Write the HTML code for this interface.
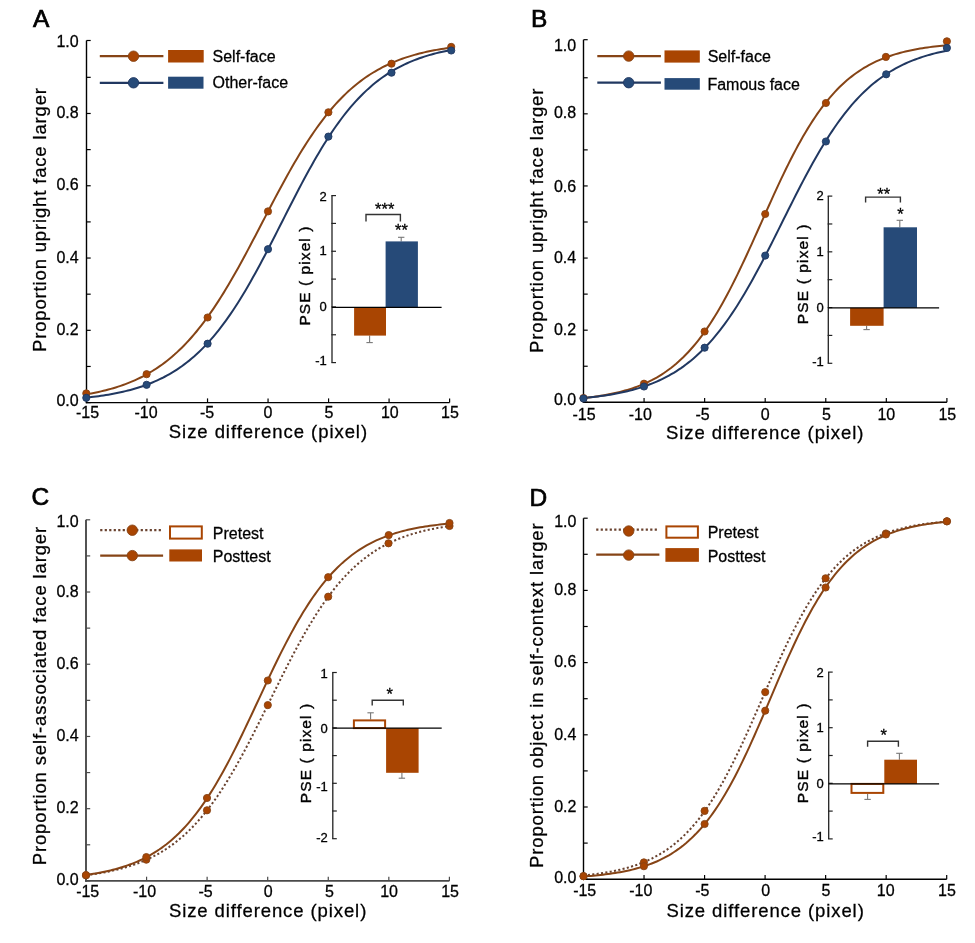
<!DOCTYPE html>
<html><head><meta charset="utf-8"><style>
html,body{margin:0;padding:0;background:#fff;width:975px;height:943px;overflow:hidden;}
svg{display:block;will-change:transform;}
text{font-family:"Liberation Sans", sans-serif;}
</style></head><body>
<svg width="975" height="943" viewBox="0 0 975 943">
<rect width="975" height="943" fill="#fff"/>
<line x1="86.50" y1="40.50" x2="86.50" y2="403.30" stroke="#000" stroke-width="1.4" />
<line x1="85.80" y1="402.60" x2="449.60" y2="402.60" stroke="#000" stroke-width="1.4" />
<line x1="86.50" y1="402.60" x2="90.70" y2="402.60" stroke="#000" stroke-width="1.2" />
<line x1="86.50" y1="366.46" x2="90.70" y2="366.46" stroke="#000" stroke-width="1.2" />
<line x1="86.50" y1="330.32" x2="90.70" y2="330.32" stroke="#000" stroke-width="1.2" />
<line x1="86.50" y1="294.18" x2="90.70" y2="294.18" stroke="#000" stroke-width="1.2" />
<line x1="86.50" y1="258.04" x2="90.70" y2="258.04" stroke="#000" stroke-width="1.2" />
<line x1="86.50" y1="221.90" x2="90.70" y2="221.90" stroke="#000" stroke-width="1.2" />
<line x1="86.50" y1="185.76" x2="90.70" y2="185.76" stroke="#000" stroke-width="1.2" />
<line x1="86.50" y1="149.62" x2="90.70" y2="149.62" stroke="#000" stroke-width="1.2" />
<line x1="86.50" y1="113.48" x2="90.70" y2="113.48" stroke="#000" stroke-width="1.2" />
<line x1="86.50" y1="77.34" x2="90.70" y2="77.34" stroke="#000" stroke-width="1.2" />
<line x1="86.50" y1="40.50" x2="90.70" y2="40.50" stroke="#000" stroke-width="1.2" />
<line x1="86.50" y1="402.60" x2="86.50" y2="398.40" stroke="#000" stroke-width="1.2" />
<line x1="147.02" y1="402.60" x2="147.02" y2="398.40" stroke="#000" stroke-width="1.2" />
<line x1="207.53" y1="402.60" x2="207.53" y2="398.40" stroke="#000" stroke-width="1.2" />
<line x1="268.05" y1="402.60" x2="268.05" y2="398.40" stroke="#000" stroke-width="1.2" />
<line x1="328.57" y1="402.60" x2="328.57" y2="398.40" stroke="#000" stroke-width="1.2" />
<line x1="389.08" y1="402.60" x2="389.08" y2="398.40" stroke="#000" stroke-width="1.2" />
<line x1="449.60" y1="402.60" x2="449.60" y2="398.40" stroke="#000" stroke-width="1.2" />
<text x="78.70" y="405.73" font-size="16" text-anchor="end" fill="#000" stroke="#000" stroke-width="0.28">0.0</text>
<text x="78.70" y="335.05" font-size="16" text-anchor="end" fill="#000" stroke="#000" stroke-width="0.28">0.2</text>
<text x="78.70" y="262.77" font-size="16" text-anchor="end" fill="#000" stroke="#000" stroke-width="0.28">0.4</text>
<text x="78.70" y="190.49" font-size="16" text-anchor="end" fill="#000" stroke="#000" stroke-width="0.28">0.6</text>
<text x="78.70" y="118.21" font-size="16" text-anchor="end" fill="#000" stroke="#000" stroke-width="0.28">0.8</text>
<text x="78.70" y="47.43" font-size="16" text-anchor="end" fill="#000" stroke="#000" stroke-width="0.28">1.0</text>
<text x="87.50" y="417.80" font-size="16" text-anchor="middle" fill="#000" stroke="#000" stroke-width="0.28">-15</text>
<text x="146.02" y="417.80" font-size="16" text-anchor="middle" fill="#000" stroke="#000" stroke-width="0.28">-10</text>
<text x="207.13" y="417.80" font-size="16" text-anchor="middle" fill="#000" stroke="#000" stroke-width="0.28">-5</text>
<text x="268.05" y="417.80" font-size="16" text-anchor="middle" fill="#000" stroke="#000" stroke-width="0.28">0</text>
<text x="328.87" y="417.80" font-size="16" text-anchor="middle" fill="#000" stroke="#000" stroke-width="0.28">5</text>
<text x="389.78" y="417.80" font-size="16" text-anchor="middle" fill="#000" stroke="#000" stroke-width="0.28">10</text>
<text x="450.00" y="417.80" font-size="16" text-anchor="middle" fill="#000" stroke="#000" stroke-width="0.28">15</text>
<text x="168.80" y="438.10" font-size="18.5" text-anchor="start" fill="#000" stroke="#000" stroke-width="0.28" textLength="198.30" lengthAdjust="spacing">Size difference (pixel)</text>
<text x="45.70" y="352.00" font-size="18.5" text-anchor="start" fill="#000" stroke="#000" stroke-width="0.28" textLength="264.00" lengthAdjust="spacing" transform="rotate(-90 45.70 352.00)">Proportion upright face larger</text>
<text x="33.00" y="26.70" font-size="24.5" text-anchor="start" fill="#000" stroke="#000" stroke-width="0.7">A</text>
<path d="M86.30,394.32 L88.75,393.89 L91.20,393.44 L93.65,392.96 L96.10,392.46 L98.54,391.93 L100.99,391.38 L103.44,390.80 L105.89,390.19 L108.34,389.54 L110.79,388.87 L113.24,388.17 L115.69,387.43 L118.14,386.65 L120.59,385.84 L123.03,384.98 L125.48,384.09 L127.93,383.15 L130.38,382.17 L132.83,381.14 L135.28,380.06 L137.73,378.94 L140.18,377.76 L142.63,376.52 L145.08,375.23 L147.52,373.88 L149.97,372.47 L152.42,371.00 L154.87,369.47 L157.32,367.86 L159.77,366.19 L162.22,364.45 L164.67,362.63 L167.12,360.74 L169.57,358.77 L172.01,356.72 L174.46,354.60 L176.91,352.38 L179.36,350.09 L181.81,347.70 L184.26,345.23 L186.71,342.67 L189.16,340.02 L191.61,337.27 L194.06,334.43 L196.50,331.50 L198.95,328.48 L201.40,325.36 L203.85,322.15 L206.30,318.84 L208.75,315.44 L211.20,311.94 L213.65,308.35 L216.10,304.68 L218.55,300.91 L220.99,297.06 L223.44,293.12 L225.89,289.10 L228.34,285.00 L230.79,280.83 L233.24,276.58 L235.69,272.27 L238.14,267.89 L240.59,263.46 L243.04,258.97 L245.48,254.43 L247.93,249.86 L250.38,245.24 L252.83,240.59 L255.28,235.92 L257.73,231.23 L260.18,226.53 L262.63,221.82 L265.08,217.11 L267.53,212.40 L269.97,207.71 L272.42,203.04 L274.87,198.40 L277.32,193.78 L279.77,189.20 L282.22,184.67 L284.67,180.18 L287.12,175.75 L289.57,171.38 L292.02,167.07 L294.46,162.82 L296.91,158.65 L299.36,154.56 L301.81,150.54 L304.26,146.61 L306.71,142.76 L309.16,138.99 L311.61,135.32 L314.06,131.73 L316.51,128.24 L318.95,124.84 L321.40,121.54 L323.85,118.33 L326.30,115.21 L328.75,112.19 L331.20,109.26 L333.65,106.43 L336.10,103.69 L338.55,101.04 L341.00,98.48 L343.44,96.01 L345.89,93.63 L348.34,91.34 L350.79,89.13 L353.24,87.00 L355.69,84.96 L358.14,82.99 L360.59,81.10 L363.04,79.29 L365.49,77.55 L367.93,75.88 L370.38,74.28 L372.83,72.74 L375.28,71.27 L377.73,69.87 L380.18,68.52 L382.63,67.23 L385.08,66.00 L387.53,64.82 L389.98,63.70 L392.42,62.62 L394.87,61.60 L397.32,60.62 L399.77,59.68 L402.22,58.79 L404.67,57.93 L407.12,57.12 L409.57,56.35 L412.02,55.61 L414.47,54.90 L416.91,54.23 L419.36,53.59 L421.81,52.98 L424.26,52.40 L426.71,51.85 L429.16,51.33 L431.61,50.82 L434.06,50.35 L436.51,49.89 L438.96,49.46 L441.40,49.05 L443.85,48.66 L446.30,48.29 L448.75,47.94 L451.20,47.60" fill="none" stroke="#864416" stroke-width="2.0"/>
<path d="M86.30,397.65 L88.75,397.38 L91.20,397.10 L93.65,396.80 L96.10,396.49 L98.54,396.16 L100.99,395.81 L103.44,395.44 L105.89,395.06 L108.34,394.65 L110.79,394.22 L113.24,393.78 L115.69,393.30 L118.14,392.81 L120.59,392.28 L123.03,391.73 L125.48,391.15 L127.93,390.55 L130.38,389.91 L132.83,389.23 L135.28,388.53 L137.73,387.79 L140.18,387.01 L142.63,386.19 L145.08,385.33 L147.52,384.43 L149.97,383.48 L152.42,382.49 L154.87,381.45 L157.32,380.36 L159.77,379.21 L162.22,378.02 L164.67,376.76 L167.12,375.45 L169.57,374.07 L172.01,372.63 L174.46,371.13 L176.91,369.56 L179.36,367.92 L181.81,366.20 L184.26,364.41 L186.71,362.54 L189.16,360.60 L191.61,358.57 L194.06,356.46 L196.50,354.26 L198.95,351.98 L201.40,349.60 L203.85,347.13 L206.30,344.58 L208.75,341.92 L211.20,339.17 L213.65,336.32 L216.10,333.38 L218.55,330.33 L220.99,327.19 L223.44,323.95 L225.89,320.60 L228.34,317.16 L230.79,313.62 L233.24,309.98 L235.69,306.25 L238.14,302.42 L240.59,298.50 L243.04,294.49 L245.48,290.39 L247.93,286.21 L250.38,281.94 L252.83,277.60 L255.28,273.19 L257.73,268.72 L260.18,264.17 L262.63,259.58 L265.08,254.93 L267.53,250.23 L269.97,245.50 L272.42,240.73 L274.87,235.93 L277.32,231.12 L279.77,226.29 L282.22,221.45 L284.67,216.62 L287.12,211.79 L289.57,206.98 L292.02,202.19 L294.46,197.43 L296.91,192.70 L299.36,188.01 L301.81,183.37 L304.26,178.78 L306.71,174.25 L309.16,169.79 L311.61,165.39 L314.06,161.06 L316.51,156.82 L318.95,152.65 L321.40,148.57 L323.85,144.57 L326.30,140.67 L328.75,136.86 L331.20,133.14 L333.65,129.52 L336.10,126.00 L338.55,122.57 L341.00,119.25 L343.44,116.02 L345.89,112.90 L348.34,109.87 L350.79,106.94 L353.24,104.12 L355.69,101.38 L358.14,98.75 L360.59,96.20 L363.04,93.75 L365.49,91.40 L367.93,89.13 L370.38,86.95 L372.83,84.85 L375.28,82.84 L377.73,80.91 L380.18,79.05 L382.63,77.28 L385.08,75.58 L387.53,73.95 L389.98,72.39 L392.42,70.90 L394.87,69.47 L397.32,68.11 L399.77,66.80 L402.22,65.56 L404.67,64.37 L407.12,63.24 L409.57,62.16 L412.02,61.12 L414.47,60.14 L416.91,59.20 L419.36,58.31 L421.81,57.46 L424.26,56.65 L426.71,55.87 L429.16,55.14 L431.61,54.44 L434.06,53.77 L436.51,53.14 L438.96,52.54 L441.40,51.96 L443.85,51.42 L446.30,50.90 L448.75,50.41 L451.20,49.94" fill="none" stroke="#213861" stroke-width="2.0"/>
<circle cx="86.30" cy="393.40" r="3.6" fill="#A94502" stroke="#864416" stroke-width="0.9"/>
<circle cx="146.60" cy="374.20" r="3.6" fill="#A94502" stroke="#864416" stroke-width="0.9"/>
<circle cx="207.60" cy="317.50" r="3.6" fill="#A94502" stroke="#864416" stroke-width="0.9"/>
<circle cx="268.00" cy="211.40" r="3.6" fill="#A94502" stroke="#864416" stroke-width="0.9"/>
<circle cx="328.40" cy="112.30" r="3.6" fill="#A94502" stroke="#864416" stroke-width="0.9"/>
<circle cx="391.50" cy="63.70" r="3.6" fill="#A94502" stroke="#864416" stroke-width="0.9"/>
<circle cx="451.20" cy="46.90" r="3.6" fill="#A94502" stroke="#864416" stroke-width="0.9"/>
<circle cx="86.30" cy="397.80" r="3.6" fill="#264A78" stroke="#213861" stroke-width="0.9"/>
<circle cx="146.60" cy="384.80" r="3.6" fill="#264A78" stroke="#213861" stroke-width="0.9"/>
<circle cx="207.60" cy="343.70" r="3.6" fill="#264A78" stroke="#213861" stroke-width="0.9"/>
<circle cx="268.00" cy="249.20" r="3.6" fill="#264A78" stroke="#213861" stroke-width="0.9"/>
<circle cx="328.40" cy="136.60" r="3.6" fill="#264A78" stroke="#213861" stroke-width="0.9"/>
<circle cx="391.50" cy="72.70" r="3.6" fill="#264A78" stroke="#213861" stroke-width="0.9"/>
<circle cx="451.20" cy="50.50" r="3.6" fill="#264A78" stroke="#213861" stroke-width="0.9"/>
<line x1="99.80" y1="56.20" x2="163.40" y2="56.20" stroke="#864416" stroke-width="2.2" />
<circle cx="133.50" cy="56.20" r="5.2" fill="#A94502" stroke="#864416" stroke-width="0.9"/>
<rect x="168.10" y="50.00" width="35.60" height="12.50" fill="#A94502"/>
<text x="212.50" y="62.00" font-size="16" text-anchor="start" fill="#000" stroke="#000" stroke-width="0.28">Self-face</text>
<line x1="99.80" y1="82.80" x2="163.40" y2="82.80" stroke="#213861" stroke-width="2.2" />
<circle cx="133.50" cy="82.80" r="5.2" fill="#264A78" stroke="#213861" stroke-width="0.9"/>
<rect x="168.10" y="76.70" width="35.40" height="12.00" fill="#264A78"/>
<text x="212.50" y="88.20" font-size="16" text-anchor="start" fill="#000" stroke="#000" stroke-width="0.28">Other-face</text>
<line x1="332.00" y1="195.60" x2="332.00" y2="362.60" stroke="#222" stroke-width="1.3" />
<line x1="331.35" y1="195.60" x2="336.00" y2="195.60" stroke="#222" stroke-width="1.2" />
<line x1="331.35" y1="223.43" x2="336.00" y2="223.43" stroke="#222" stroke-width="1.2" />
<line x1="331.35" y1="251.27" x2="336.00" y2="251.27" stroke="#222" stroke-width="1.2" />
<line x1="331.35" y1="279.10" x2="336.00" y2="279.10" stroke="#222" stroke-width="1.2" />
<line x1="331.35" y1="306.93" x2="336.00" y2="306.93" stroke="#222" stroke-width="1.2" />
<line x1="331.35" y1="334.77" x2="336.00" y2="334.77" stroke="#222" stroke-width="1.2" />
<line x1="331.35" y1="362.60" x2="336.00" y2="362.60" stroke="#222" stroke-width="1.2" />
<text x="326.80" y="364.80" font-size="13" text-anchor="end" fill="#000" stroke="#000" stroke-width="0.3">-1</text>
<text x="326.80" y="311.13" font-size="13" text-anchor="end" fill="#000" stroke="#000" stroke-width="0.3">0</text>
<text x="326.80" y="254.97" font-size="13" text-anchor="end" fill="#000" stroke="#000" stroke-width="0.3">1</text>
<text x="326.80" y="200.80" font-size="13" text-anchor="end" fill="#000" stroke="#000" stroke-width="0.3">2</text>
<line x1="369.60" y1="335.60" x2="369.60" y2="342.60" stroke="#777" stroke-width="1.1" />
<line x1="366.40" y1="342.60" x2="372.80" y2="342.60" stroke="#777" stroke-width="1.1" />
<rect x="354.10" y="307.40" width="31.90" height="28.20" fill="#A94502"/>
<line x1="401.20" y1="241.40" x2="401.20" y2="237.30" stroke="#777" stroke-width="1.1" />
<line x1="398.00" y1="237.30" x2="404.40" y2="237.30" stroke="#777" stroke-width="1.1" />
<rect x="385.60" y="241.40" width="32.30" height="66.00" fill="#264A78"/>
<line x1="332.00" y1="307.40" x2="441.60" y2="307.40" stroke="#000" stroke-width="1.3" />
<text x="310.40" y="325.60" font-size="15.5" text-anchor="start" fill="#000" stroke="#000" stroke-width="0.4" textLength="99.00" lengthAdjust="spacing" transform="rotate(-90 310.40 325.60)">PSE ( pixel )</text>
<path d="M366.00,221.50 L366.00,214.50 L400.40,214.50 L400.40,221.50" fill="none" stroke="#333" stroke-width="1.4"/>
<text x="384.70" y="215.00" font-size="16.5" text-anchor="middle" fill="#000" stroke="#000" stroke-width="0.3">***</text>
<text x="401.50" y="236.00" font-size="16.5" text-anchor="middle" fill="#000" stroke="#000" stroke-width="0.3">**</text>
<line x1="583.50" y1="39.70" x2="583.50" y2="403.00" stroke="#000" stroke-width="1.4" />
<line x1="582.80" y1="402.30" x2="946.90" y2="402.30" stroke="#000" stroke-width="1.4" />
<line x1="583.50" y1="402.30" x2="587.70" y2="402.30" stroke="#000" stroke-width="1.2" />
<line x1="583.50" y1="366.24" x2="587.70" y2="366.24" stroke="#000" stroke-width="1.2" />
<line x1="583.50" y1="330.18" x2="587.70" y2="330.18" stroke="#000" stroke-width="1.2" />
<line x1="583.50" y1="294.12" x2="587.70" y2="294.12" stroke="#000" stroke-width="1.2" />
<line x1="583.50" y1="258.06" x2="587.70" y2="258.06" stroke="#000" stroke-width="1.2" />
<line x1="583.50" y1="222.00" x2="587.70" y2="222.00" stroke="#000" stroke-width="1.2" />
<line x1="583.50" y1="185.94" x2="587.70" y2="185.94" stroke="#000" stroke-width="1.2" />
<line x1="583.50" y1="149.88" x2="587.70" y2="149.88" stroke="#000" stroke-width="1.2" />
<line x1="583.50" y1="113.82" x2="587.70" y2="113.82" stroke="#000" stroke-width="1.2" />
<line x1="583.50" y1="77.76" x2="587.70" y2="77.76" stroke="#000" stroke-width="1.2" />
<line x1="583.50" y1="39.70" x2="587.70" y2="39.70" stroke="#000" stroke-width="1.2" />
<line x1="583.50" y1="402.30" x2="583.50" y2="398.10" stroke="#000" stroke-width="1.2" />
<line x1="644.07" y1="402.30" x2="644.07" y2="398.10" stroke="#000" stroke-width="1.2" />
<line x1="704.63" y1="402.30" x2="704.63" y2="398.10" stroke="#000" stroke-width="1.2" />
<line x1="765.20" y1="402.30" x2="765.20" y2="398.10" stroke="#000" stroke-width="1.2" />
<line x1="825.77" y1="402.30" x2="825.77" y2="398.10" stroke="#000" stroke-width="1.2" />
<line x1="886.33" y1="402.30" x2="886.33" y2="398.10" stroke="#000" stroke-width="1.2" />
<line x1="946.90" y1="402.30" x2="946.90" y2="398.10" stroke="#000" stroke-width="1.2" />
<text x="576.20" y="405.43" font-size="16" text-anchor="end" fill="#000" stroke="#000" stroke-width="0.28">0.0</text>
<text x="576.20" y="335.01" font-size="16" text-anchor="end" fill="#000" stroke="#000" stroke-width="0.28">0.2</text>
<text x="576.20" y="262.89" font-size="16" text-anchor="end" fill="#000" stroke="#000" stroke-width="0.28">0.4</text>
<text x="576.20" y="191.67" font-size="16" text-anchor="end" fill="#000" stroke="#000" stroke-width="0.28">0.6</text>
<text x="576.20" y="117.65" font-size="16" text-anchor="end" fill="#000" stroke="#000" stroke-width="0.28">0.8</text>
<text x="576.20" y="50.63" font-size="16" text-anchor="end" fill="#000" stroke="#000" stroke-width="0.28">1.0</text>
<text x="584.00" y="419.50" font-size="16" text-anchor="middle" fill="#000" stroke="#000" stroke-width="0.28">-15</text>
<text x="640.27" y="419.50" font-size="16" text-anchor="middle" fill="#000" stroke="#000" stroke-width="0.28">-10</text>
<text x="702.63" y="419.50" font-size="16" text-anchor="middle" fill="#000" stroke="#000" stroke-width="0.28">-5</text>
<text x="765.20" y="419.50" font-size="16" text-anchor="middle" fill="#000" stroke="#000" stroke-width="0.28">0</text>
<text x="826.57" y="419.50" font-size="16" text-anchor="middle" fill="#000" stroke="#000" stroke-width="0.28">5</text>
<text x="886.33" y="419.50" font-size="16" text-anchor="middle" fill="#000" stroke="#000" stroke-width="0.28">10</text>
<text x="947.30" y="419.50" font-size="16" text-anchor="middle" fill="#000" stroke="#000" stroke-width="0.28">15</text>
<text x="666.00" y="438.50" font-size="18.5" text-anchor="start" fill="#000" stroke="#000" stroke-width="0.28" textLength="197.40" lengthAdjust="spacing">Size difference (pixel)</text>
<text x="543.50" y="352.90" font-size="18.5" text-anchor="start" fill="#000" stroke="#000" stroke-width="0.28" textLength="264.30" lengthAdjust="spacing" transform="rotate(-90 543.50 352.90)">Proportion upright face larger</text>
<text x="531.00" y="27.20" font-size="24.5" text-anchor="start" fill="#000" stroke="#000" stroke-width="0.7">B</text>
<path d="M583.50,398.03 L585.94,397.76 L588.38,397.49 L590.82,397.19 L593.26,396.87 L595.69,396.54 L598.13,396.19 L600.57,395.81 L603.01,395.41 L605.45,394.99 L607.89,394.55 L610.33,394.07 L612.77,393.57 L615.21,393.04 L617.64,392.48 L620.08,391.88 L622.52,391.25 L624.96,390.58 L627.40,389.88 L629.84,389.13 L632.28,388.34 L634.72,387.50 L637.16,386.62 L639.60,385.68 L642.03,384.70 L644.47,383.65 L646.91,382.55 L649.35,381.39 L651.79,380.17 L654.23,378.87 L656.67,377.51 L659.11,376.07 L661.55,374.56 L663.98,372.97 L666.42,371.30 L668.86,369.53 L671.30,367.68 L673.74,365.74 L676.18,363.70 L678.62,361.56 L681.06,359.32 L683.50,356.98 L685.93,354.52 L688.37,351.95 L690.81,349.27 L693.25,346.47 L695.69,343.55 L698.13,340.51 L700.57,337.34 L703.01,334.05 L705.45,330.64 L707.89,327.10 L710.32,323.43 L712.76,319.63 L715.20,315.70 L717.64,311.66 L720.08,307.48 L722.52,303.19 L724.96,298.77 L727.40,294.24 L729.84,289.60 L732.27,284.86 L734.71,280.01 L737.15,275.07 L739.59,270.03 L742.03,264.92 L744.47,259.73 L746.91,254.47 L749.35,249.16 L751.79,243.80 L754.22,238.40 L756.66,232.97 L759.10,227.52 L761.54,222.06 L763.98,216.60 L766.42,211.15 L768.86,205.72 L771.30,200.31 L773.74,194.95 L776.18,189.64 L778.61,184.38 L781.05,179.19 L783.49,174.08 L785.93,169.04 L788.37,164.10 L790.81,159.25 L793.25,154.50 L795.69,149.85 L798.13,145.32 L800.56,140.91 L803.00,136.61 L805.44,132.43 L807.88,128.38 L810.32,124.45 L812.76,120.65 L815.20,116.98 L817.64,113.44 L820.08,110.02 L822.51,106.72 L824.95,103.56 L827.39,100.51 L829.83,97.59 L832.27,94.79 L834.71,92.10 L837.15,89.53 L839.59,87.08 L842.03,84.73 L844.47,82.48 L846.90,80.34 L849.34,78.30 L851.78,76.36 L854.22,74.50 L856.66,72.74 L859.10,71.06 L861.54,69.47 L863.98,67.96 L866.42,66.52 L868.85,65.16 L871.29,63.86 L873.73,62.63 L876.17,61.47 L878.61,60.37 L881.05,59.32 L883.49,58.34 L885.93,57.40 L888.37,56.52 L890.80,55.68 L893.24,54.89 L895.68,54.14 L898.12,53.43 L900.56,52.76 L903.00,52.13 L905.44,51.53 L907.88,50.97 L910.32,50.44 L912.76,49.94 L915.19,49.46 L917.63,49.02 L920.07,48.59 L922.51,48.20 L924.95,47.82 L927.39,47.47 L929.83,47.13 L932.27,46.82 L934.71,46.52 L937.14,46.24 L939.58,45.98 L942.02,45.73 L944.46,45.49 L946.90,45.27" fill="none" stroke="#864416" stroke-width="2.0"/>
<path d="M583.50,398.04 L585.94,397.81 L588.38,397.56 L590.82,397.30 L593.26,397.03 L595.69,396.74 L598.13,396.43 L600.57,396.11 L603.01,395.77 L605.45,395.41 L607.89,395.03 L610.33,394.64 L612.77,394.22 L615.21,393.78 L617.64,393.31 L620.08,392.83 L622.52,392.31 L624.96,391.77 L627.40,391.20 L629.84,390.60 L632.28,389.97 L634.72,389.31 L637.16,388.61 L639.60,387.87 L642.03,387.10 L644.47,386.29 L646.91,385.44 L649.35,384.55 L651.79,383.61 L654.23,382.62 L656.67,381.58 L659.11,380.50 L661.55,379.36 L663.98,378.16 L666.42,376.91 L668.86,375.60 L671.30,374.22 L673.74,372.79 L676.18,371.28 L678.62,369.70 L681.06,368.06 L683.50,366.34 L685.93,364.54 L688.37,362.66 L690.81,360.71 L693.25,358.66 L695.69,356.54 L698.13,354.32 L700.57,352.02 L703.01,349.62 L705.45,347.13 L707.89,344.54 L710.32,341.86 L712.76,339.08 L715.20,336.20 L717.64,333.21 L720.08,330.13 L722.52,326.94 L724.96,323.65 L727.40,320.26 L729.84,316.77 L732.27,313.17 L734.71,309.48 L737.15,305.68 L739.59,301.79 L742.03,297.81 L744.47,293.73 L746.91,289.57 L749.35,285.32 L751.79,280.98 L754.22,276.57 L756.66,272.09 L759.10,267.53 L761.54,262.92 L763.98,258.25 L766.42,253.52 L768.86,248.75 L771.30,243.95 L773.74,239.11 L776.18,234.24 L778.61,229.36 L781.05,224.47 L783.49,219.57 L785.93,214.68 L788.37,209.80 L790.81,204.93 L793.25,200.09 L795.69,195.28 L798.13,190.52 L800.56,185.79 L803.00,181.12 L805.44,176.50 L807.88,171.95 L810.32,167.47 L812.76,163.05 L815.20,158.72 L817.64,154.47 L820.08,150.30 L822.51,146.22 L824.95,142.24 L827.39,138.35 L829.83,134.55 L832.27,130.86 L834.71,127.26 L837.15,123.77 L839.59,120.38 L842.03,117.09 L844.47,113.90 L846.90,110.81 L849.34,107.83 L851.78,104.95 L854.22,102.16 L856.66,99.48 L859.10,96.89 L861.54,94.40 L863.98,92.00 L866.42,89.70 L868.85,87.48 L871.29,85.35 L873.73,83.31 L876.17,81.35 L878.61,79.48 L881.05,77.68 L883.49,75.96 L885.93,74.31 L888.37,72.73 L890.80,71.23 L893.24,69.79 L895.68,68.41 L898.12,67.10 L900.56,65.85 L903.00,64.65 L905.44,63.51 L907.88,62.42 L910.32,61.39 L912.76,60.40 L915.19,59.46 L917.63,58.57 L920.07,57.71 L922.51,56.90 L924.95,56.13 L927.39,55.40 L929.83,54.70 L932.27,54.04 L934.71,53.40 L937.14,52.80 L939.58,52.23 L942.02,51.69 L944.46,51.18 L946.90,50.69" fill="none" stroke="#213861" stroke-width="2.0"/>
<circle cx="583.50" cy="398.00" r="3.6" fill="#A94502" stroke="#864416" stroke-width="0.9"/>
<circle cx="644.00" cy="383.70" r="3.6" fill="#A94502" stroke="#864416" stroke-width="0.9"/>
<circle cx="704.60" cy="331.50" r="3.6" fill="#A94502" stroke="#864416" stroke-width="0.9"/>
<circle cx="765.20" cy="214.00" r="3.6" fill="#A94502" stroke="#864416" stroke-width="0.9"/>
<circle cx="825.90" cy="103.00" r="3.6" fill="#A94502" stroke="#864416" stroke-width="0.9"/>
<circle cx="885.90" cy="56.90" r="3.6" fill="#A94502" stroke="#864416" stroke-width="0.9"/>
<circle cx="946.90" cy="41.30" r="3.6" fill="#A94502" stroke="#864416" stroke-width="0.9"/>
<circle cx="583.50" cy="398.50" r="3.6" fill="#264A78" stroke="#213861" stroke-width="0.9"/>
<circle cx="644.00" cy="386.50" r="3.6" fill="#264A78" stroke="#213861" stroke-width="0.9"/>
<circle cx="704.60" cy="347.70" r="3.6" fill="#264A78" stroke="#213861" stroke-width="0.9"/>
<circle cx="765.20" cy="255.60" r="3.6" fill="#264A78" stroke="#213861" stroke-width="0.9"/>
<circle cx="825.90" cy="141.50" r="3.6" fill="#264A78" stroke="#213861" stroke-width="0.9"/>
<circle cx="886.20" cy="74.30" r="3.6" fill="#264A78" stroke="#213861" stroke-width="0.9"/>
<circle cx="946.90" cy="47.90" r="3.6" fill="#264A78" stroke="#213861" stroke-width="0.9"/>
<line x1="597.30" y1="56.10" x2="660.90" y2="56.10" stroke="#864416" stroke-width="2.2" />
<circle cx="628.70" cy="56.10" r="5.2" fill="#A94502" stroke="#864416" stroke-width="0.9"/>
<rect x="664.50" y="50.40" width="35.30" height="12.20" fill="#A94502"/>
<text x="707.70" y="62.40" font-size="16" text-anchor="start" fill="#000" stroke="#000" stroke-width="0.28">Self-face</text>
<line x1="597.30" y1="82.70" x2="660.90" y2="82.70" stroke="#213861" stroke-width="2.2" />
<circle cx="628.70" cy="82.70" r="5.2" fill="#264A78" stroke="#213861" stroke-width="0.9"/>
<rect x="664.50" y="78.10" width="35.30" height="11.60" fill="#264A78"/>
<text x="707.40" y="89.50" font-size="16" text-anchor="start" fill="#000" stroke="#000" stroke-width="0.28">Famous face</text>
<line x1="828.30" y1="196.10" x2="828.30" y2="363.30" stroke="#222" stroke-width="1.3" />
<line x1="827.65" y1="196.10" x2="832.30" y2="196.10" stroke="#222" stroke-width="1.2" />
<line x1="827.65" y1="223.97" x2="832.30" y2="223.97" stroke="#222" stroke-width="1.2" />
<line x1="827.65" y1="251.83" x2="832.30" y2="251.83" stroke="#222" stroke-width="1.2" />
<line x1="827.65" y1="279.70" x2="832.30" y2="279.70" stroke="#222" stroke-width="1.2" />
<line x1="827.65" y1="307.57" x2="832.30" y2="307.57" stroke="#222" stroke-width="1.2" />
<line x1="827.65" y1="335.43" x2="832.30" y2="335.43" stroke="#222" stroke-width="1.2" />
<line x1="827.65" y1="363.30" x2="832.30" y2="363.30" stroke="#222" stroke-width="1.2" />
<text x="823.80" y="366.00" font-size="13" text-anchor="end" fill="#000" stroke="#000" stroke-width="0.3">-1</text>
<text x="823.80" y="312.27" font-size="13" text-anchor="end" fill="#000" stroke="#000" stroke-width="0.3">0</text>
<text x="823.80" y="256.03" font-size="13" text-anchor="end" fill="#000" stroke="#000" stroke-width="0.3">1</text>
<text x="823.80" y="200.30" font-size="13" text-anchor="end" fill="#000" stroke="#000" stroke-width="0.3">2</text>
<line x1="866.60" y1="325.80" x2="866.60" y2="329.60" stroke="#777" stroke-width="1.1" />
<line x1="863.40" y1="329.60" x2="869.80" y2="329.60" stroke="#777" stroke-width="1.1" />
<rect x="850.10" y="307.90" width="33.50" height="17.90" fill="#A94502"/>
<line x1="899.80" y1="227.30" x2="899.80" y2="220.30" stroke="#777" stroke-width="1.1" />
<line x1="896.60" y1="220.30" x2="903.00" y2="220.30" stroke="#777" stroke-width="1.1" />
<rect x="883.60" y="227.30" width="33.40" height="80.60" fill="#264A78"/>
<line x1="828.30" y1="307.90" x2="939.10" y2="307.90" stroke="#000" stroke-width="1.3" />
<text x="808.00" y="324.20" font-size="15.5" text-anchor="start" fill="#000" stroke="#000" stroke-width="0.4" textLength="99.70" lengthAdjust="spacing" transform="rotate(-90 808.00 324.20)">PSE ( pixel )</text>
<path d="M865.60,202.60 L865.60,197.10 L900.40,197.10 L900.40,202.60" fill="none" stroke="#333" stroke-width="1.4"/>
<text x="883.70" y="199.50" font-size="16.5" text-anchor="middle" fill="#000" stroke="#000" stroke-width="0.3">**</text>
<text x="900.40" y="219.70" font-size="16.5" text-anchor="middle" fill="#000" stroke="#000" stroke-width="0.3">*</text>
<line x1="86.00" y1="519.80" x2="86.00" y2="881.85" stroke="#4a4a4a" stroke-width="1.9" />
<line x1="85.05" y1="880.90" x2="449.40" y2="880.90" stroke="#4a4a4a" stroke-width="1.9" />
<line x1="86.00" y1="880.90" x2="90.20" y2="880.90" stroke="#4a4a4a" stroke-width="1.2" />
<line x1="86.00" y1="844.79" x2="90.20" y2="844.79" stroke="#4a4a4a" stroke-width="1.2" />
<line x1="86.00" y1="808.68" x2="90.20" y2="808.68" stroke="#4a4a4a" stroke-width="1.2" />
<line x1="86.00" y1="772.57" x2="90.20" y2="772.57" stroke="#4a4a4a" stroke-width="1.2" />
<line x1="86.00" y1="736.46" x2="90.20" y2="736.46" stroke="#4a4a4a" stroke-width="1.2" />
<line x1="86.00" y1="700.35" x2="90.20" y2="700.35" stroke="#4a4a4a" stroke-width="1.2" />
<line x1="86.00" y1="664.24" x2="90.20" y2="664.24" stroke="#4a4a4a" stroke-width="1.2" />
<line x1="86.00" y1="628.13" x2="90.20" y2="628.13" stroke="#4a4a4a" stroke-width="1.2" />
<line x1="86.00" y1="592.02" x2="90.20" y2="592.02" stroke="#4a4a4a" stroke-width="1.2" />
<line x1="86.00" y1="555.91" x2="90.20" y2="555.91" stroke="#4a4a4a" stroke-width="1.2" />
<line x1="86.00" y1="519.80" x2="90.20" y2="519.80" stroke="#4a4a4a" stroke-width="1.2" />
<line x1="86.00" y1="880.90" x2="86.00" y2="876.70" stroke="#4a4a4a" stroke-width="1.2" />
<line x1="146.57" y1="880.90" x2="146.57" y2="876.70" stroke="#4a4a4a" stroke-width="1.2" />
<line x1="207.13" y1="880.90" x2="207.13" y2="876.70" stroke="#4a4a4a" stroke-width="1.2" />
<line x1="267.70" y1="880.90" x2="267.70" y2="876.70" stroke="#4a4a4a" stroke-width="1.2" />
<line x1="328.27" y1="880.90" x2="328.27" y2="876.70" stroke="#4a4a4a" stroke-width="1.2" />
<line x1="388.83" y1="880.90" x2="388.83" y2="876.70" stroke="#4a4a4a" stroke-width="1.2" />
<line x1="449.40" y1="880.90" x2="449.40" y2="876.70" stroke="#4a4a4a" stroke-width="1.2" />
<text x="78.70" y="884.83" font-size="16" text-anchor="end" fill="#000" stroke="#000" stroke-width="0.28">0.0</text>
<text x="78.70" y="813.41" font-size="16" text-anchor="end" fill="#000" stroke="#000" stroke-width="0.28">0.2</text>
<text x="78.70" y="741.19" font-size="16" text-anchor="end" fill="#000" stroke="#000" stroke-width="0.28">0.4</text>
<text x="78.70" y="668.97" font-size="16" text-anchor="end" fill="#000" stroke="#000" stroke-width="0.28">0.6</text>
<text x="78.70" y="596.75" font-size="16" text-anchor="end" fill="#000" stroke="#000" stroke-width="0.28">0.8</text>
<text x="78.70" y="526.73" font-size="16" text-anchor="end" fill="#000" stroke="#000" stroke-width="0.28">1.0</text>
<text x="87.70" y="896.80" font-size="16" text-anchor="middle" fill="#000" stroke="#000" stroke-width="0.28">-15</text>
<text x="144.57" y="896.80" font-size="16" text-anchor="middle" fill="#000" stroke="#000" stroke-width="0.28">-10</text>
<text x="205.53" y="896.80" font-size="16" text-anchor="middle" fill="#000" stroke="#000" stroke-width="0.28">-5</text>
<text x="268.20" y="896.80" font-size="16" text-anchor="middle" fill="#000" stroke="#000" stroke-width="0.28">0</text>
<text x="329.37" y="896.80" font-size="16" text-anchor="middle" fill="#000" stroke="#000" stroke-width="0.28">5</text>
<text x="389.03" y="896.80" font-size="16" text-anchor="middle" fill="#000" stroke="#000" stroke-width="0.28">10</text>
<text x="450.10" y="896.80" font-size="16" text-anchor="middle" fill="#000" stroke="#000" stroke-width="0.28">15</text>
<text x="168.90" y="917.10" font-size="18.5" text-anchor="start" fill="#000" stroke="#000" stroke-width="0.28" textLength="197.40" lengthAdjust="spacing">Size difference (pixel)</text>
<text x="45.80" y="865.30" font-size="18.5" text-anchor="start" fill="#000" stroke="#000" stroke-width="0.28" textLength="338.50" lengthAdjust="spacing" transform="rotate(-90 45.80 865.30)">Proportion self-associated face larger</text>
<text x="31.50" y="505.10" font-size="24.5" text-anchor="start" fill="#000" stroke="#000" stroke-width="0.7">C</text>
<path d="M86.00,875.21 L88.44,874.89 L90.88,874.56 L93.32,874.21 L95.76,873.84 L98.20,873.45 L100.64,873.04 L103.08,872.61 L105.52,872.15 L107.96,871.67 L110.40,871.17 L112.84,870.64 L115.28,870.07 L117.71,869.48 L120.15,868.86 L122.59,868.21 L125.03,867.52 L127.47,866.80 L129.91,866.03 L132.35,865.23 L134.79,864.39 L137.23,863.51 L139.67,862.58 L142.11,861.60 L144.55,860.57 L146.99,859.50 L149.43,858.36 L151.87,857.18 L154.31,855.94 L156.75,854.63 L159.19,853.26 L161.63,851.83 L164.07,850.33 L166.51,848.77 L168.95,847.13 L171.39,845.41 L173.83,843.62 L176.27,841.74 L178.70,839.79 L181.14,837.75 L183.58,835.63 L186.02,833.41 L188.46,831.10 L190.90,828.71 L193.34,826.21 L195.78,823.62 L198.22,820.93 L200.66,818.14 L203.10,815.24 L205.54,812.25 L207.98,809.15 L210.42,805.95 L212.86,802.64 L215.30,799.23 L217.74,795.71 L220.18,792.10 L222.62,788.38 L225.06,784.55 L227.50,780.63 L229.94,776.62 L232.38,772.51 L234.82,768.30 L237.26,764.02 L239.69,759.64 L242.13,755.19 L244.57,750.66 L247.01,746.07 L249.45,741.40 L251.89,736.69 L254.33,731.91 L256.77,727.10 L259.21,722.24 L261.65,717.35 L264.09,712.43 L266.53,707.50 L268.97,702.56 L271.41,697.61 L273.85,692.67 L276.29,687.74 L278.73,682.83 L281.17,677.94 L283.61,673.09 L286.05,668.27 L288.49,663.51 L290.93,658.79 L293.37,654.14 L295.81,649.55 L298.24,645.03 L300.68,640.59 L303.12,636.22 L305.56,631.94 L308.00,627.75 L310.44,623.65 L312.88,619.64 L315.32,615.73 L317.76,611.92 L320.20,608.21 L322.64,604.60 L325.08,601.10 L327.52,597.70 L329.96,594.40 L332.40,591.21 L334.84,588.13 L337.28,585.14 L339.72,582.26 L342.16,579.48 L344.60,576.80 L347.04,574.22 L349.48,571.73 L351.92,569.34 L354.36,567.05 L356.80,564.84 L359.23,562.73 L361.67,560.70 L364.11,558.75 L366.55,556.89 L368.99,555.10 L371.43,553.40 L373.87,551.76 L376.31,550.20 L378.75,548.71 L381.19,547.29 L383.63,545.93 L386.07,544.63 L388.51,543.39 L390.95,542.21 L393.39,541.09 L395.83,540.02 L398.27,538.99 L400.71,538.02 L403.15,537.10 L405.59,536.22 L408.03,535.38 L410.47,534.58 L412.91,533.83 L415.35,533.10 L417.79,532.42 L420.22,531.77 L422.66,531.15 L425.10,530.56 L427.54,530.01 L429.98,529.48 L432.42,528.97 L434.86,528.50 L437.30,528.04 L439.74,527.61 L442.18,527.20 L444.62,526.82 L447.06,526.45 L449.50,526.10" fill="none" stroke="#6A4330" stroke-width="2.0" stroke-dasharray="2.1 2.3"/>
<path d="M86.00,874.96 L88.44,874.61 L90.88,874.24 L93.32,873.85 L95.76,873.44 L98.20,873.00 L100.64,872.54 L103.08,872.06 L105.52,871.54 L107.96,871.00 L110.40,870.43 L112.84,869.82 L115.28,869.18 L117.71,868.51 L120.15,867.79 L122.59,867.04 L125.03,866.25 L127.47,865.41 L129.91,864.53 L132.35,863.60 L134.79,862.62 L137.23,861.59 L139.67,860.50 L142.11,859.36 L144.55,858.16 L146.99,856.89 L149.43,855.56 L151.87,854.16 L154.31,852.69 L156.75,851.15 L159.19,849.53 L161.63,847.83 L164.07,846.04 L166.51,844.18 L168.95,842.22 L171.39,840.17 L173.83,838.03 L176.27,835.80 L178.70,833.46 L181.14,831.02 L183.58,828.48 L186.02,825.83 L188.46,823.07 L190.90,820.20 L193.34,817.22 L195.78,814.13 L198.22,810.91 L200.66,807.59 L203.10,804.15 L205.54,800.59 L207.98,796.91 L210.42,793.12 L212.86,789.21 L215.30,785.20 L217.74,781.07 L220.18,776.83 L222.62,772.48 L225.06,768.04 L227.50,763.50 L229.94,758.86 L232.38,754.14 L234.82,749.33 L237.26,744.45 L239.69,739.50 L242.13,734.49 L244.57,729.42 L247.01,724.30 L249.45,719.15 L251.89,713.96 L254.33,708.75 L256.77,703.53 L259.21,698.30 L261.65,693.07 L264.09,687.86 L266.53,682.67 L268.97,677.51 L271.41,672.38 L273.85,667.30 L276.29,662.27 L278.73,657.31 L281.17,652.41 L283.61,647.59 L286.05,642.85 L288.49,638.19 L290.93,633.63 L293.37,629.17 L295.81,624.80 L298.24,620.54 L300.68,616.39 L303.12,612.34 L305.56,608.41 L308.00,604.60 L310.44,600.90 L312.88,597.31 L315.32,593.84 L317.76,590.49 L320.20,587.26 L322.64,584.14 L325.08,581.13 L327.52,578.24 L329.96,575.46 L332.40,572.78 L334.84,570.22 L337.28,567.76 L339.72,565.40 L342.16,563.14 L344.60,560.98 L347.04,558.91 L349.48,556.94 L351.92,555.05 L354.36,553.25 L356.80,551.53 L359.23,549.90 L361.67,548.34 L364.11,546.85 L366.55,545.44 L368.99,544.09 L371.43,542.81 L373.87,541.59 L376.31,540.44 L378.75,539.34 L381.19,538.30 L383.63,537.31 L386.07,536.37 L388.51,535.47 L390.95,534.63 L393.39,533.83 L395.83,533.07 L398.27,532.34 L400.71,531.66 L403.15,531.02 L405.59,530.40 L408.03,529.82 L410.47,529.27 L412.91,528.75 L415.35,528.26 L417.79,527.80 L420.22,527.35 L422.66,526.94 L425.10,526.54 L427.54,526.17 L429.98,525.82 L432.42,525.48 L434.86,525.17 L437.30,524.87 L439.74,524.59 L442.18,524.32 L444.62,524.07 L447.06,523.83 L449.50,523.61" fill="none" stroke="#864416" stroke-width="2.0"/>
<circle cx="86.00" cy="875.20" r="3.6" fill="#A94502" stroke="#864416" stroke-width="0.9"/>
<circle cx="146.30" cy="859.70" r="3.6" fill="#A94502" stroke="#864416" stroke-width="0.9"/>
<circle cx="207.00" cy="810.30" r="3.6" fill="#A94502" stroke="#864416" stroke-width="0.9"/>
<circle cx="267.80" cy="705.10" r="3.6" fill="#A94502" stroke="#864416" stroke-width="0.9"/>
<circle cx="328.20" cy="596.70" r="3.6" fill="#A94502" stroke="#864416" stroke-width="0.9"/>
<circle cx="388.50" cy="543.30" r="3.6" fill="#A94502" stroke="#864416" stroke-width="0.9"/>
<circle cx="449.50" cy="526.00" r="3.6" fill="#A94502" stroke="#864416" stroke-width="0.9"/>
<circle cx="86.00" cy="875.20" r="3.6" fill="#A94502" stroke="#864416" stroke-width="0.9"/>
<circle cx="146.30" cy="857.10" r="3.6" fill="#A94502" stroke="#864416" stroke-width="0.9"/>
<circle cx="207.00" cy="798.00" r="3.6" fill="#A94502" stroke="#864416" stroke-width="0.9"/>
<circle cx="267.80" cy="680.50" r="3.6" fill="#A94502" stroke="#864416" stroke-width="0.9"/>
<circle cx="328.20" cy="577.20" r="3.6" fill="#A94502" stroke="#864416" stroke-width="0.9"/>
<circle cx="388.70" cy="535.10" r="3.6" fill="#A94502" stroke="#864416" stroke-width="0.9"/>
<circle cx="449.50" cy="523.00" r="3.6" fill="#A94502" stroke="#864416" stroke-width="0.9"/>
<line x1="100.20" y1="530.20" x2="161.70" y2="530.20" stroke="#6A4330" stroke-width="2.2" stroke-dasharray="2.2 2.3"/>
<circle cx="132.30" cy="530.20" r="5.2" fill="#A94502" stroke="#864416" stroke-width="0.9"/>
<rect x="170.00" y="526.40" width="31.80" height="12.20" fill="#fff" stroke="#A94502" stroke-width="2.0"/>
<text x="212.80" y="538.70" font-size="16" text-anchor="start" fill="#000" stroke="#000" stroke-width="0.28">Pretest</text>
<line x1="100.20" y1="555.60" x2="163.10" y2="555.60" stroke="#864416" stroke-width="2.2" />
<circle cx="132.30" cy="555.60" r="5.2" fill="#A94502" stroke="#864416" stroke-width="0.9"/>
<rect x="169.30" y="549.40" width="32.70" height="12.10" fill="#A94502"/>
<text x="212.80" y="561.80" font-size="16" text-anchor="start" fill="#000" stroke="#000" stroke-width="0.28">Posttest</text>
<line x1="332.80" y1="672.50" x2="332.80" y2="838.70" stroke="#222" stroke-width="1.3" />
<line x1="332.15" y1="672.50" x2="336.80" y2="672.50" stroke="#222" stroke-width="1.2" />
<line x1="332.15" y1="700.20" x2="336.80" y2="700.20" stroke="#222" stroke-width="1.2" />
<line x1="332.15" y1="727.90" x2="336.80" y2="727.90" stroke="#222" stroke-width="1.2" />
<line x1="332.15" y1="755.60" x2="336.80" y2="755.60" stroke="#222" stroke-width="1.2" />
<line x1="332.15" y1="783.30" x2="336.80" y2="783.30" stroke="#222" stroke-width="1.2" />
<line x1="332.15" y1="811.00" x2="336.80" y2="811.00" stroke="#222" stroke-width="1.2" />
<line x1="332.15" y1="838.70" x2="336.80" y2="838.70" stroke="#222" stroke-width="1.2" />
<text x="327.80" y="842.40" font-size="13" text-anchor="end" fill="#000" stroke="#000" stroke-width="0.3">-2</text>
<text x="327.80" y="791.00" font-size="13" text-anchor="end" fill="#000" stroke="#000" stroke-width="0.3">-1</text>
<text x="327.80" y="732.60" font-size="13" text-anchor="end" fill="#000" stroke="#000" stroke-width="0.3">0</text>
<text x="327.80" y="678.20" font-size="13" text-anchor="end" fill="#000" stroke="#000" stroke-width="0.3">1</text>
<line x1="370.60" y1="719.40" x2="370.60" y2="712.80" stroke="#777" stroke-width="1.1" />
<line x1="367.40" y1="712.80" x2="373.80" y2="712.80" stroke="#777" stroke-width="1.1" />
<rect x="353.90" y="720.40" width="31.20" height="7.70" fill="#fff" stroke="#A94502" stroke-width="2.0"/>
<line x1="401.90" y1="772.80" x2="401.90" y2="778.20" stroke="#777" stroke-width="1.1" />
<line x1="398.70" y1="778.20" x2="405.10" y2="778.20" stroke="#777" stroke-width="1.1" />
<rect x="386.10" y="728.10" width="32.50" height="44.70" fill="#A94502"/>
<line x1="332.80" y1="728.10" x2="441.70" y2="728.10" stroke="#000" stroke-width="1.3" />
<text x="311.00" y="803.20" font-size="15.5" text-anchor="start" fill="#000" stroke="#000" stroke-width="0.4" textLength="99.30" lengthAdjust="spacing" transform="rotate(-90 311.00 803.20)">PSE ( pixel )</text>
<path d="M372.20,705.50 L372.20,700.30 L403.30,700.30 L403.30,705.50" fill="none" stroke="#333" stroke-width="1.4"/>
<text x="389.80" y="699.70" font-size="16.5" text-anchor="middle" fill="#000" stroke="#000" stroke-width="0.3">*</text>
<line x1="583.50" y1="518.20" x2="583.50" y2="879.90" stroke="#000" stroke-width="1.4" />
<line x1="582.80" y1="879.20" x2="946.70" y2="879.20" stroke="#000" stroke-width="1.4" />
<line x1="583.50" y1="879.20" x2="587.70" y2="879.20" stroke="#000" stroke-width="1.2" />
<line x1="583.50" y1="843.10" x2="587.70" y2="843.10" stroke="#000" stroke-width="1.2" />
<line x1="583.50" y1="807.00" x2="587.70" y2="807.00" stroke="#000" stroke-width="1.2" />
<line x1="583.50" y1="770.90" x2="587.70" y2="770.90" stroke="#000" stroke-width="1.2" />
<line x1="583.50" y1="734.80" x2="587.70" y2="734.80" stroke="#000" stroke-width="1.2" />
<line x1="583.50" y1="698.70" x2="587.70" y2="698.70" stroke="#000" stroke-width="1.2" />
<line x1="583.50" y1="662.60" x2="587.70" y2="662.60" stroke="#000" stroke-width="1.2" />
<line x1="583.50" y1="626.50" x2="587.70" y2="626.50" stroke="#000" stroke-width="1.2" />
<line x1="583.50" y1="590.40" x2="587.70" y2="590.40" stroke="#000" stroke-width="1.2" />
<line x1="583.50" y1="554.30" x2="587.70" y2="554.30" stroke="#000" stroke-width="1.2" />
<line x1="583.50" y1="518.20" x2="587.70" y2="518.20" stroke="#000" stroke-width="1.2" />
<line x1="583.50" y1="879.20" x2="583.50" y2="875.00" stroke="#000" stroke-width="1.2" />
<line x1="644.03" y1="879.20" x2="644.03" y2="875.00" stroke="#000" stroke-width="1.2" />
<line x1="704.57" y1="879.20" x2="704.57" y2="875.00" stroke="#000" stroke-width="1.2" />
<line x1="765.10" y1="879.20" x2="765.10" y2="875.00" stroke="#000" stroke-width="1.2" />
<line x1="825.63" y1="879.20" x2="825.63" y2="875.00" stroke="#000" stroke-width="1.2" />
<line x1="886.17" y1="879.20" x2="886.17" y2="875.00" stroke="#000" stroke-width="1.2" />
<line x1="946.70" y1="879.20" x2="946.70" y2="875.00" stroke="#000" stroke-width="1.2" />
<text x="576.40" y="883.23" font-size="16" text-anchor="end" fill="#000" stroke="#000" stroke-width="0.28">0.0</text>
<text x="576.40" y="811.73" font-size="16" text-anchor="end" fill="#000" stroke="#000" stroke-width="0.28">0.2</text>
<text x="576.40" y="739.53" font-size="16" text-anchor="end" fill="#000" stroke="#000" stroke-width="0.28">0.4</text>
<text x="576.40" y="667.33" font-size="16" text-anchor="end" fill="#000" stroke="#000" stroke-width="0.28">0.6</text>
<text x="576.40" y="595.13" font-size="16" text-anchor="end" fill="#000" stroke="#000" stroke-width="0.28">0.8</text>
<text x="576.40" y="526.73" font-size="16" text-anchor="end" fill="#000" stroke="#000" stroke-width="0.28">1.0</text>
<text x="584.70" y="896.10" font-size="16" text-anchor="middle" fill="#000" stroke="#000" stroke-width="0.28">-15</text>
<text x="640.73" y="896.10" font-size="16" text-anchor="middle" fill="#000" stroke="#000" stroke-width="0.28">-10</text>
<text x="702.27" y="896.10" font-size="16" text-anchor="middle" fill="#000" stroke="#000" stroke-width="0.28">-5</text>
<text x="765.60" y="896.10" font-size="16" text-anchor="middle" fill="#000" stroke="#000" stroke-width="0.28">0</text>
<text x="825.93" y="896.10" font-size="16" text-anchor="middle" fill="#000" stroke="#000" stroke-width="0.28">5</text>
<text x="885.77" y="896.10" font-size="16" text-anchor="middle" fill="#000" stroke="#000" stroke-width="0.28">10</text>
<text x="947.00" y="896.10" font-size="16" text-anchor="middle" fill="#000" stroke="#000" stroke-width="0.28">15</text>
<text x="666.40" y="917.30" font-size="18.5" text-anchor="start" fill="#000" stroke="#000" stroke-width="0.28" textLength="197.40" lengthAdjust="spacing">Size difference (pixel)</text>
<text x="543.10" y="867.90" font-size="18.5" text-anchor="start" fill="#000" stroke="#000" stroke-width="0.28" textLength="344.50" lengthAdjust="spacing" transform="rotate(-90 543.10 867.90)">Proportion object in self-context larger</text>
<text x="529.50" y="505.60" font-size="24.5" text-anchor="start" fill="#000" stroke="#000" stroke-width="0.7">D</text>
<path d="M583.50,875.37 L585.94,875.12 L588.38,874.87 L590.82,874.59 L593.26,874.30 L595.69,874.00 L598.13,873.67 L600.57,873.32 L603.01,872.95 L605.45,872.56 L607.89,872.15 L610.33,871.70 L612.77,871.24 L615.21,870.74 L617.64,870.21 L620.08,869.66 L622.52,869.06 L624.96,868.44 L627.40,867.77 L629.84,867.07 L632.28,866.32 L634.72,865.53 L637.16,864.69 L639.60,863.80 L642.03,862.86 L644.47,861.87 L646.91,860.82 L649.35,859.71 L651.79,858.54 L654.23,857.30 L656.67,855.99 L659.11,854.61 L661.55,853.16 L663.98,851.62 L666.42,850.00 L668.86,848.30 L671.30,846.51 L673.74,844.62 L676.18,842.64 L678.62,840.55 L681.06,838.37 L683.50,836.07 L685.93,833.66 L688.37,831.14 L690.81,828.51 L693.25,825.75 L695.69,822.87 L698.13,819.87 L700.57,816.74 L703.01,813.48 L705.45,810.08 L707.89,806.56 L710.32,802.90 L712.76,799.11 L715.20,795.19 L717.64,791.14 L720.08,786.95 L722.52,782.64 L724.96,778.20 L727.40,773.64 L729.84,768.96 L732.27,764.17 L734.71,759.26 L737.15,754.26 L739.59,749.16 L742.03,743.97 L744.47,738.69 L746.91,733.35 L749.35,727.94 L751.79,722.48 L754.22,716.97 L756.66,711.43 L759.10,705.86 L761.54,700.28 L763.98,694.70 L766.42,689.12 L768.86,683.56 L771.30,678.03 L773.74,672.54 L776.18,667.10 L778.61,661.72 L781.05,656.41 L783.49,651.17 L785.93,646.02 L788.37,640.96 L790.81,635.99 L793.25,631.14 L795.69,626.39 L798.13,621.76 L800.56,617.25 L803.00,612.87 L805.44,608.61 L807.88,604.48 L810.32,600.49 L812.76,596.62 L815.20,592.89 L817.64,589.29 L820.08,585.83 L822.51,582.49 L824.95,579.29 L827.39,576.21 L829.83,573.26 L832.27,570.44 L834.71,567.73 L837.15,565.15 L839.59,562.68 L842.03,560.32 L844.47,558.07 L846.90,555.93 L849.34,553.89 L851.78,551.95 L854.22,550.10 L856.66,548.35 L859.10,546.68 L861.54,545.10 L863.98,543.60 L866.42,542.18 L868.85,540.83 L871.29,539.55 L873.73,538.34 L876.17,537.20 L878.61,536.11 L881.05,535.09 L883.49,534.12 L885.93,533.21 L888.37,532.34 L890.80,531.52 L893.24,530.75 L895.68,530.02 L898.12,529.34 L900.56,528.69 L903.00,528.08 L905.44,527.50 L907.88,526.95 L910.32,526.44 L912.76,525.96 L915.19,525.50 L917.63,525.07 L920.07,524.67 L922.51,524.28 L924.95,523.93 L927.39,523.59 L929.83,523.27 L932.27,522.97 L934.71,522.69 L937.14,522.42 L939.58,522.17 L942.02,521.93 L944.46,521.71 L946.90,521.50" fill="none" stroke="#6A4330" stroke-width="2.0" stroke-dasharray="2.1 2.3"/>
<path d="M583.50,876.46 L585.94,876.28 L588.38,876.09 L590.82,875.88 L593.26,875.67 L595.69,875.44 L598.13,875.19 L600.57,874.93 L603.01,874.66 L605.45,874.36 L607.89,874.05 L610.33,873.72 L612.77,873.36 L615.21,872.99 L617.64,872.59 L620.08,872.16 L622.52,871.71 L624.96,871.23 L627.40,870.72 L629.84,870.17 L632.28,869.60 L634.72,868.98 L637.16,868.33 L639.60,867.64 L642.03,866.91 L644.47,866.13 L646.91,865.30 L649.35,864.43 L651.79,863.50 L654.23,862.52 L656.67,861.48 L659.11,860.37 L661.55,859.20 L663.98,857.97 L666.42,856.66 L668.86,855.28 L671.30,853.82 L673.74,852.27 L676.18,850.65 L678.62,848.93 L681.06,847.12 L683.50,845.21 L685.93,843.20 L688.37,841.08 L690.81,838.86 L693.25,836.52 L695.69,834.07 L698.13,831.50 L700.57,828.80 L703.01,825.98 L705.45,823.03 L707.89,819.95 L710.32,816.73 L712.76,813.38 L715.20,809.88 L717.64,806.25 L720.08,802.48 L722.52,798.56 L724.96,794.51 L727.40,790.32 L729.84,785.99 L732.27,781.52 L734.71,776.93 L737.15,772.20 L739.59,767.35 L742.03,762.38 L744.47,757.30 L746.91,752.11 L749.35,746.83 L751.79,741.45 L754.22,735.99 L756.66,730.46 L759.10,724.87 L761.54,719.23 L763.98,713.54 L766.42,707.83 L768.86,702.09 L771.30,696.35 L773.74,690.62 L776.18,684.90 L778.61,679.21 L781.05,673.56 L783.49,667.95 L785.93,662.41 L788.37,656.94 L790.81,651.55 L793.25,646.25 L795.69,641.04 L798.13,635.94 L800.56,630.95 L803.00,626.08 L805.44,621.33 L807.88,616.71 L810.32,612.22 L812.76,607.86 L815.20,603.64 L817.64,599.57 L820.08,595.63 L822.51,591.83 L824.95,588.17 L827.39,584.65 L829.83,581.27 L832.27,578.03 L834.71,574.92 L837.15,571.95 L839.59,569.10 L842.03,566.38 L844.47,563.79 L846.90,561.31 L849.34,558.96 L851.78,556.71 L854.22,554.58 L856.66,552.55 L859.10,550.62 L861.54,548.80 L863.98,547.06 L866.42,545.42 L868.85,543.86 L871.29,542.38 L873.73,540.99 L876.17,539.67 L878.61,538.42 L881.05,537.24 L883.49,536.12 L885.93,535.07 L888.37,534.08 L890.80,533.14 L893.24,532.25 L895.68,531.42 L898.12,530.63 L900.56,529.89 L903.00,529.19 L905.44,528.53 L907.88,527.91 L910.32,527.33 L912.76,526.78 L915.19,526.26 L917.63,525.78 L920.07,525.32 L922.51,524.89 L924.95,524.48 L927.39,524.10 L929.83,523.75 L932.27,523.41 L934.71,523.09 L937.14,522.79 L939.58,522.51 L942.02,522.25 L944.46,522.00 L946.90,521.77" fill="none" stroke="#864416" stroke-width="2.0"/>
<circle cx="583.50" cy="876.20" r="3.6" fill="#A94502" stroke="#864416" stroke-width="0.9"/>
<circle cx="643.90" cy="862.40" r="3.6" fill="#A94502" stroke="#864416" stroke-width="0.9"/>
<circle cx="704.60" cy="810.90" r="3.6" fill="#A94502" stroke="#864416" stroke-width="0.9"/>
<circle cx="765.20" cy="692.10" r="3.6" fill="#A94502" stroke="#864416" stroke-width="0.9"/>
<circle cx="825.60" cy="578.30" r="3.6" fill="#A94502" stroke="#864416" stroke-width="0.9"/>
<circle cx="885.90" cy="533.50" r="3.6" fill="#A94502" stroke="#864416" stroke-width="0.9"/>
<circle cx="946.90" cy="521.30" r="3.6" fill="#A94502" stroke="#864416" stroke-width="0.9"/>
<circle cx="583.50" cy="876.20" r="3.6" fill="#A94502" stroke="#864416" stroke-width="0.9"/>
<circle cx="643.90" cy="866.20" r="3.6" fill="#A94502" stroke="#864416" stroke-width="0.9"/>
<circle cx="704.60" cy="824.00" r="3.6" fill="#A94502" stroke="#864416" stroke-width="0.9"/>
<circle cx="765.20" cy="710.70" r="3.6" fill="#A94502" stroke="#864416" stroke-width="0.9"/>
<circle cx="825.60" cy="587.50" r="3.6" fill="#A94502" stroke="#864416" stroke-width="0.9"/>
<circle cx="885.90" cy="534.50" r="3.6" fill="#A94502" stroke="#864416" stroke-width="0.9"/>
<circle cx="946.90" cy="521.30" r="3.6" fill="#A94502" stroke="#864416" stroke-width="0.9"/>
<line x1="596.20" y1="529.70" x2="657.70" y2="529.70" stroke="#6A4330" stroke-width="2.2" stroke-dasharray="2.2 2.3"/>
<circle cx="628.70" cy="531.00" r="5.2" fill="#A94502" stroke="#864416" stroke-width="0.9"/>
<rect x="666.40" y="526.40" width="31.50" height="11.30" fill="#fff" stroke="#A94502" stroke-width="2.0"/>
<text x="707.70" y="538.10" font-size="16" text-anchor="start" fill="#000" stroke="#000" stroke-width="0.28">Pretest</text>
<line x1="596.20" y1="554.70" x2="659.40" y2="554.70" stroke="#864416" stroke-width="2.2" />
<circle cx="628.70" cy="555.10" r="5.2" fill="#A94502" stroke="#864416" stroke-width="0.9"/>
<rect x="665.40" y="548.10" width="33.50" height="13.70" fill="#A94502"/>
<text x="707.70" y="561.50" font-size="16" text-anchor="start" fill="#000" stroke="#000" stroke-width="0.28">Posttest</text>
<line x1="828.70" y1="672.10" x2="828.70" y2="838.90" stroke="#222" stroke-width="1.3" />
<line x1="828.05" y1="672.10" x2="832.70" y2="672.10" stroke="#222" stroke-width="1.2" />
<line x1="828.05" y1="699.90" x2="832.70" y2="699.90" stroke="#222" stroke-width="1.2" />
<line x1="828.05" y1="727.70" x2="832.70" y2="727.70" stroke="#222" stroke-width="1.2" />
<line x1="828.05" y1="755.50" x2="832.70" y2="755.50" stroke="#222" stroke-width="1.2" />
<line x1="828.05" y1="783.30" x2="832.70" y2="783.30" stroke="#222" stroke-width="1.2" />
<line x1="828.05" y1="811.10" x2="832.70" y2="811.10" stroke="#222" stroke-width="1.2" />
<line x1="828.05" y1="838.90" x2="832.70" y2="838.90" stroke="#222" stroke-width="1.2" />
<text x="823.80" y="841.00" font-size="13" text-anchor="end" fill="#000" stroke="#000" stroke-width="0.3">-1</text>
<text x="823.80" y="787.50" font-size="13" text-anchor="end" fill="#000" stroke="#000" stroke-width="0.3">0</text>
<text x="823.80" y="731.90" font-size="13" text-anchor="end" fill="#000" stroke="#000" stroke-width="0.3">1</text>
<text x="823.80" y="677.30" font-size="13" text-anchor="end" fill="#000" stroke="#000" stroke-width="0.3">2</text>
<line x1="867.60" y1="793.90" x2="867.60" y2="799.40" stroke="#777" stroke-width="1.1" />
<line x1="864.40" y1="799.40" x2="870.80" y2="799.40" stroke="#777" stroke-width="1.1" />
<rect x="851.50" y="783.90" width="31.80" height="9.00" fill="#fff" stroke="#A94502" stroke-width="2.0"/>
<line x1="899.40" y1="759.70" x2="899.40" y2="753.30" stroke="#777" stroke-width="1.1" />
<line x1="896.20" y1="753.30" x2="902.60" y2="753.30" stroke="#777" stroke-width="1.1" />
<rect x="884.30" y="759.70" width="32.70" height="24.20" fill="#A94502"/>
<line x1="828.70" y1="783.90" x2="939.10" y2="783.90" stroke="#000" stroke-width="1.3" />
<text x="808.00" y="803.20" font-size="15.5" text-anchor="start" fill="#000" stroke="#000" stroke-width="0.4" textLength="99.70" lengthAdjust="spacing" transform="rotate(-90 808.00 803.20)">PSE ( pixel )</text>
<path d="M867.60,746.80 L867.60,741.20 L898.40,741.20 L898.40,746.80" fill="none" stroke="#333" stroke-width="1.4"/>
<text x="883.70" y="741.00" font-size="16.5" text-anchor="middle" fill="#000" stroke="#000" stroke-width="0.3">*</text>
</svg></body></html>
